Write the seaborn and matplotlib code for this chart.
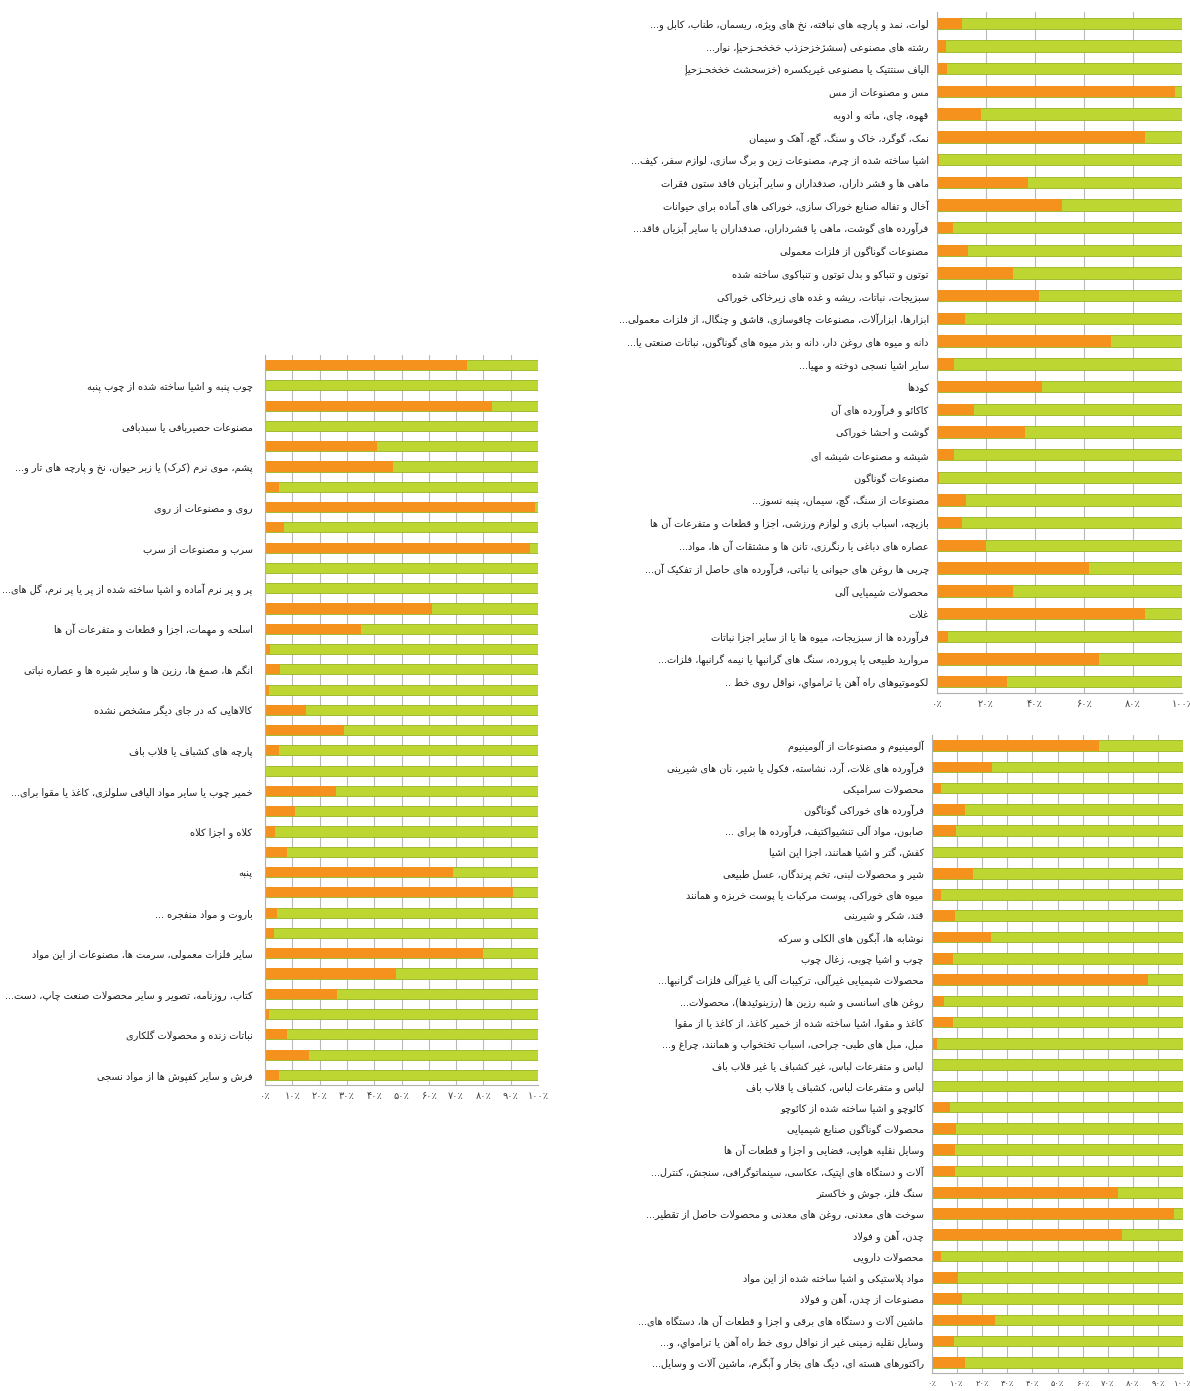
import pandas as pd
import matplotlib
matplotlib.use('Agg')
import matplotlib.pyplot as plt
import matplotlib.transforms as mtransforms
import seaborn as sns

# ---- data (percent share of the orange part of each bar, rest is green) ----
left_labels = [
    None, 'چوب پنبه و اشیا ساخته شده از چوب پنبه',
    None, 'مصنوعات حصیربافی یا سبدبافی',
    None, 'پشم، موی نرم (کرک) یا زبر حیوان، نخ و پارچه های تار و...',
    None, 'روی و مصنوعات از روی',
    None, 'سرب و مصنوعات از سرب',
    None, 'پر و پر نرم آماده و اشیا ساخته شده از پر یا پر نرم، گل های...',
    None, 'اسلحه و مهمات، اجزا و قطعات و متفرعات آن ها',
    None, 'انگم ها، صمغ ها، رزین ها و سایر شیره ها و عصاره نباتی',
    None, 'کالاهایی که در جای دیگر مشخص نشده',
    None, 'پارچه های کشباف یا قلاب باف',
    None, 'خمیر چوب یا سایر مواد الیافی سلولزی، کاغذ یا مقوا برای...',
    None, 'کلاه و اجزا کلاه',
    None, 'پنبه',
    None, 'باروت و مواد منفجره ...',
    None, 'سایر فلزات معمولی، سرمت ها، مصنوعات از این مواد',
    None, 'کتاب، روزنامه، تصویر و سایر محصولات صنعت چاپ، دست...',
    None, 'نباتات زنده و محصولات گلکاری',
    None, 'فرش و سایر کفپوش ها از مواد نسجی',
]
left_orange = [74, 0, 83, 0, 41, 47, 5, 99, 7, 97, 0, 0, 61, 35, 2, 5.5, 1.5, 15,
               29, 5, 0, 26, 11, 3.5, 8, 69, 91, 4.5, 3.3, 80, 48, 26.5, 1.5, 8, 16, 5]

top_labels = [
    'لوات، نمد و پارچه های نبافته، نخ های ویژه، ریسمان، طناب، کابل و...',
    'رشته های مصنوعی (سشژخزحزذب خخخحـزحيإ، نوار...',
    'الیاف سنتتیک یا مصنوعی غیریکسره (خزسحشث خخخحـزحيإ',
    'مس و مصنوعات از مس',
    'قهوه، چای، ماته و ادویه',
    'نمک، گوگرد، خاک و سنگ، گچ، آهک و سیمان',
    'اشیا ساخته شده از چرم، مصنوعات زین و برگ سازی، لوازم سفر، کیف...',
    'ماهی ها و قشر داران، صدفداران و سایر آبزیان فاقد ستون فقرات',
    'آخال و تفاله صنایع خوراک سازی، خوراکی های آماده برای حیوانات',
    'فرآورده های گوشت، ماهی یا قشرداران، صدفداران یا سایر آبزیان فاقد...',
    'مصنوعات گوناگون از فلزات معمولی',
    'توتون و تنباکو و بدل توتون و تنباکوی ساخته شده',
    'سبزیجات، نباتات، ریشه و غده های زیرخاکی خوراکی',
    'ابزارها، ابزارآلات، مصنوعات چاقوسازی، قاشق و چنگال، از فلزات معمولی...',
    'دانه و میوه های روغن دار، دانه و بذر میوه های گوناگون، نباتات صنعتی یا...',
    'سایر اشیا نسجی دوخته و مهیا...',
    'کودها',
    'کاکائو و فرآورده های آن',
    'گوشت و احشا خوراکی',
    'شیشه و مصنوعات شیشه ای',
    'مصنوعات گوناگون',
    'مصنوعات از سنگ، گچ، سیمان، پنبه نسوز...',
    'بازیچه، اسباب بازی و لوازم ورزشی، اجزا و قطعات و متفرعات آن ها',
    'عصاره های دباغی یا رنگرزی، تانن ها و مشتقات آن ها، مواد...',
    'چربی ها روغن های حیوانی یا نباتی، فرآورده های حاصل از تفکیک آن...',
    'محصولات شیمیایی آلی',
    'غلات',
    'فرآورده ها از سبزیجات، میوه ها یا از سایر اجزا نباتات',
    'مروارید طبیعی یا پرورده، سنگ های گرانبها یا نیمه گرانبها، فلزات...',
    'لکوموتیوهای راه آهن یا ترامواي، نواقل روی خط ..',
]
top_orange = [10, 3.5, 4, 97, 18, 85, 1, 37, 51, 6.5, 12.5, 31, 41.5, 11.5, 71,
              7, 43, 15, 36, 7, 1, 12, 10, 20, 62, 31, 85, 4.5, 66, 28.5]

bottom_labels = [
    'آلومینیوم و مصنوعات از آلومینیوم',
    'فرآورده های غلات، آرد، نشاسته، فکول یا شیر، نان های شیرینی',
    'محصولات سرامیکی',
    'فرآورده های خوراکی گوناگون',
    'صابون، مواد آلی تنشیواکتیف، فرآورده ها برای ...',
    'کفش، گتر و اشیا همانند، اجزا این اشیا',
    'شیر و محصولات لبنی، تخم پرندگان، عسل طبیعی',
    'میوه های خوراکی، پوست مرکبات یا پوست خربزه و همانند',
    'قند، شکر و شیرینی',
    'نوشابه ها، آبگون های الکلی و سرکه',
    'چوب و اشیا چوبی، زغال چوب',
    'محصولات شیمیایی غیرآلی، ترکیبات آلی یا غیرآلی فلزات گرانبها...',
    'روغن های اسانسی و شبه رزین ها (رزینوئیدها)، محصولات...',
    'کاغذ و مقوا، اشیا ساخته شده از خمیر کاغذ، از کاغذ یا از مقوا',
    'مبل، مبل های طبی- جراحی، اسباب تختخواب و همانند، چراغ و...',
    'لباس و متفرعات لباس، غیر کشباف یا غیر قلاب باف',
    'لباس و متفرعات لباس، کشباف یا قلاب باف',
    'کائوچو و اشیا ساخته شده از کائوچو',
    'محصولات گوناگون صنایع شیمیایی',
    'وسایل نقلیه هوایی، فضایی و اجزا و قطعات آن ها',
    'آلات و دستگاه های اپتیک، عکاسی، سینماتوگرافی، سنجش، کنترل...',
    'سنگ فلز، جوش و خاکستر',
    'سوخت های معدنی، روغن های معدنی و محصولات حاصل از تقطیر...',
    'چدن، آهن و فولاد',
    'محصولات دارویی',
    'مواد پلاستیکی و اشیا ساخته شده از این مواد',
    'مصنوعات از چدن، آهن و فولاد',
    'ماشین آلات و دستگاه های برقی و اجزا و قطعات آن ها، دستگاه های...',
    'وسایل نقلیه زمینی غیر از نواقل روی خط راه آهن یا ترامواي، و...',
    'راکتورهای هسته ای، دیگ های بخار و آبگرم، ماشین آلات و وسایل...',
]
bottom_orange = [66.5, 24, 3.7, 13, 9.5, 0.3, 16.5, 3.7, 9, 23.5, 8.3, 86, 4.7, 8.4, 2,
                 0.5, 0, 7.2, 9.5, 9, 9, 74, 96.5, 75.5, 3.6, 10.5, 12, 25, 8.6, 13.3]

ORANGE = '#f5921e'
GREEN = '#bdd631'
GREEN_EDGE = '#97b420'

# ---- minimal Persian shaping (matplotlib has no RTL / joining support) ----
DUAL = {'ئ': 0xFE89, 'ب': 0xFE8F, 'ت': 0xFE95, 'ث': 0xFE99, 'ج': 0xFE9D, 'ح': 0xFEA1,
        'خ': 0xFEA5, 'س': 0xFEB1, 'ش': 0xFEB5, 'ص': 0xFEB9, 'ض': 0xFEBD, 'ط': 0xFEC1,
        'ظ': 0xFEC5, 'ع': 0xFEC9, 'غ': 0xFECD, 'ف': 0xFED1, 'ق': 0xFED5, 'ك': 0xFED9,
        'ل': 0xFEDD, 'م': 0xFEE1, 'ن': 0xFEE5, 'ه': 0xFEE9, 'ي': 0xFEF1, 'پ': 0xFB56,
        'چ': 0xFB7A, 'ک': 0xFB8E, 'گ': 0xFB92, 'ی': 0xFBFC}
RIGHT = {'آ': 0xFE81, 'أ': 0xFE83, 'ؤ': 0xFE85, 'إ': 0xFE87, 'ا': 0xFE8D, 'ة': 0xFE93,
         'د': 0xFEA9, 'ذ': 0xFEAB, 'ر': 0xFEAD, 'ز': 0xFEAF, 'و': 0xFEED, 'ژ': 0xFB8A}
LAMALEF = {'آ': 0xFEF5, 'أ': 0xFEF7, 'إ': 0xFEF9, 'ا': 0xFEFB}


def shape(text):
    if not text:
        return ''
    out = []
    i = 0
    n = len(text)
    while i < n:
        c = text[i]
        p = i > 0 and (text[i - 1] in DUAL or text[i - 1] == 'ـ')
        if c == 'ل' and i + 1 < n and text[i + 1] in LAMALEF:
            out.append(chr(LAMALEF[text[i + 1]] + (1 if p else 0)))
            i += 2
            continue
        nxt = text[i + 1] if i + 1 < n else ''
        if c in DUAL:
            nj = nxt in DUAL or nxt in RIGHT or nxt == 'ـ'
            k = 3 if (p and nj) else 1 if p else 2 if nj else 0
            out.append(chr(DUAL[c] + k))
        elif c in RIGHT:
            out.append(chr(RIGHT[c] + (1 if p else 0)))
        else:
            out.append(c)
        i += 1
    return ''.join(reversed(out)).translate(str.maketrans('()', ')('))


def fa_pct(v):
    return str(v).translate(str.maketrans('0123456789', '۰۱۲۳۴۵۶۷۸۹')) + '٪'


def draw_panel(fig, rect, labels, orange, step, label_pad, tick_size=7, last_shift=0):
    ax = fig.add_axes(rect)
    df = pd.DataFrame({'cat': [str(i) for i in range(len(orange))], 'orange': orange})
    df['total'] = 100
    # green = full bar, orange drawn on top of it
    sns.barplot(data=df, x='total', y='cat', orient='h', color=GREEN, saturation=1,
                width=0.5, edgecolor=GREEN_EDGE, linewidth=0.6, errorbar=None, ax=ax)
    sns.barplot(data=df, x='orange', y='cat', orient='h', color=ORANGE, saturation=1,
                width=0.5, linewidth=0, errorbar=None, ax=ax)

    ax.set_xlim(0, 100)
    ax.set_ylim(len(orange) - 0.5, -0.5)
    ticks = list(range(0, 101, step))
    ax.set_xticks(ticks)
    ax.set_xticklabels([fa_pct(t) for t in ticks], fontsize=tick_size, color='#404040')
    if last_shift:
        # nudge the "100%" label inwards so it stays inside the figure
        lbl = ax.get_xticklabels()[-1]
        lbl.set_transform(lbl.get_transform() +
                          mtransforms.ScaledTranslation(-last_shift / 72, 0, fig.dpi_scale_trans))
    ax.set_yticks(range(len(orange)))
    ax.set_yticklabels([shape(l) for l in labels], fontsize=7, color='#1e1e1e')
    ax.tick_params(axis='y', length=0, pad=label_pad)
    ax.tick_params(axis='x', length=2, color='#a0a0a0', pad=2)
    ax.set_xlabel('')
    ax.set_ylabel('')

    ax.xaxis.grid(True, color='#b8b8b8', linewidth=0.8)
    ax.set_axisbelow(True)
    for side in ['top', 'right']:
        ax.spines[side].set_visible(False)
    for side in ['left', 'bottom']:
        ax.spines[side].set_color('#b0b0b0')
    return ax


sns.set_style('white')
plt.rcParams['font.family'] = ['DejaVu Sans']

W, H = 1190, 1391
fig = plt.figure(figsize=(W / 100, H / 100), dpi=100)

draw_panel(fig, [265 / W, (H - 1085) / H, 273 / W, 730 / H], left_labels, left_orange, 10, 9)
draw_panel(fig, [937 / W, (H - 693) / H, 245 / W, 681 / H], top_labels, top_orange, 20, 6,
           tick_size=7, last_shift=6)
draw_panel(fig, [932 / W, (H - 1373) / H, 251 / W, 638 / H], bottom_labels, bottom_orange, 10, 6,
           tick_size=6, last_shift=3)

fig.savefig('out.png', dpi=100, facecolor='white')
